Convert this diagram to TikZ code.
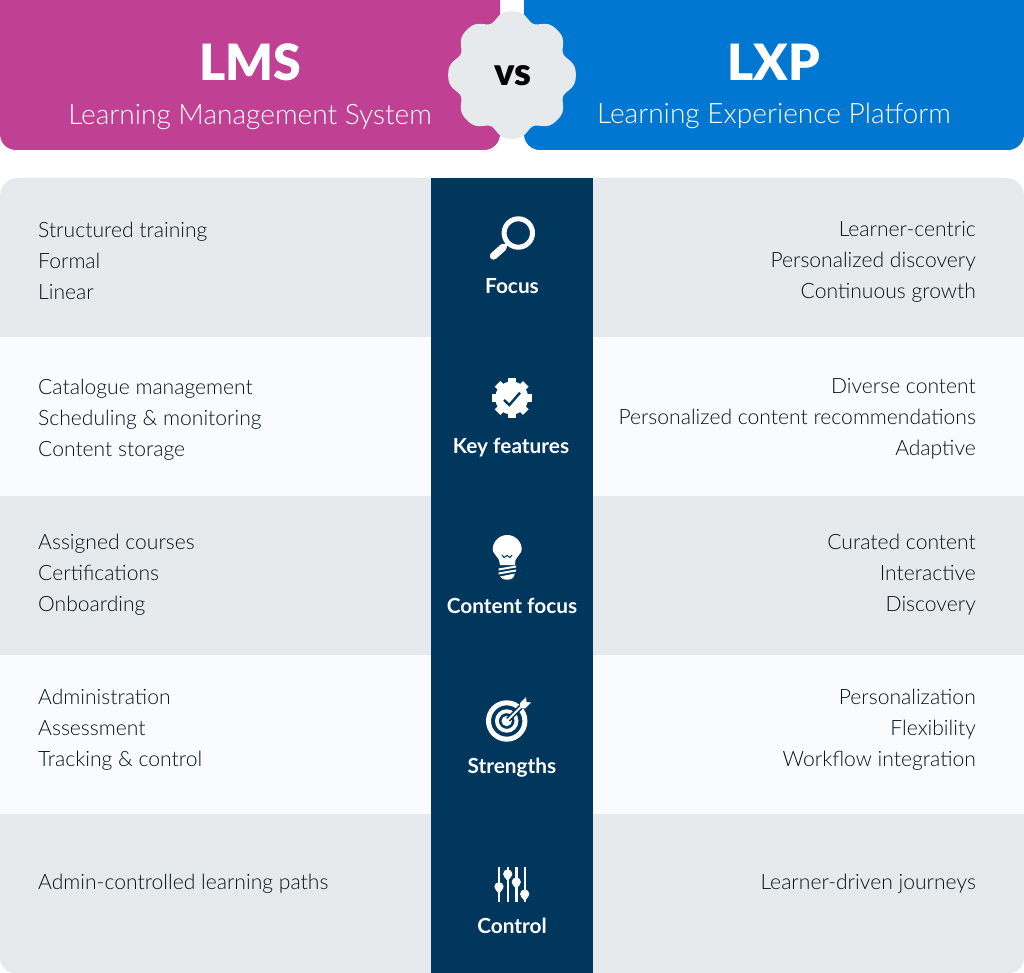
\documentclass[tikz,border=0pt]{standalone}
\usepackage{fontspec}
\setmainfont{Lato}[UprightFont=* Light,BoldFont=* Bold]
\newfontfamily\heavyfont{Lato Black}
\definecolor{lms}{HTML}{C04194}
\definecolor{lxp}{HTML}{0277D2}
\definecolor{navy}{HTML}{01375C}
\definecolor{rowdark}{HTML}{E6EAEC}
\definecolor{rowlight}{HTML}{F9FBFD}
\definecolor{ink}{HTML}{05131C}
\tikzset{
 rowtext/.style={inner sep=0pt,text=ink,font=\fontsize{21.1}{31}\selectfont,
   execute at begin node=\strut,execute at end node=\strut},
 lefttext/.style={rowtext,anchor=west,align=left},
 righttext/.style={rowtext,anchor=east,align=right},
 catlabel/.style={inner sep=0pt,text=white,font=\fontsize{20.8}{24}\selectfont\bfseries},
 bigtitle/.style={inner sep=0pt,text=white,font=\fontsize{50}{60}\selectfont\heavyfont},
 subtitle/.style={inner sep=0pt,text=white,font=\fontsize{28.1}{32}\selectfont},
 icon/.style={fill=white,draw=none},
 iconline/.style={draw=white,line cap=butt}
}
\begin{document}
\begin{tikzpicture}[x=1pt,y=-1pt]
\useasboundingbox (0,0) rectangle (1024,973);
% header
\fill[lms] (0,-30) [rounded corners=16pt] -- (0,150) -- (500,150) [sharp corners] -- (500,-30) -- cycle;
\fill[lxp] (524,-30) [rounded corners=16pt] -- (524,150) -- (1024,150) [sharp corners] -- (1024,-30) -- cycle;
\fill[rowdark,shift={(512,75)}] plot[domain=0:360,samples=361] ({(60.5+4.2*cos(8*\x)-0.9*cos(16*\x))*cos(\x)},{(60.5+4.2*cos(8*\x)-0.9*cos(16*\x))*sin(\x)}) -- cycle;
\node[bigtitle] (lmst) at (250,62) {LMS};
\node[subtitle] (lmss) at (250,117) {Learning Management System};
\node[bigtitle] (lxpt) at (774,62) {LXP};
\node[subtitle] (lxps) at (774,115.5) {Learning Experience Platform};
\node[inner sep=0pt,text=black,font=\fontsize{38}{40}\selectfont\heavyfont] (vs) at (512.5,76) {vs};
% rows
\fill[rowdark] (0,337) [rounded corners=18pt] -- (0,178) -- (1024,178) [sharp corners] -- (1024,337) -- cycle;
\fill[rowlight] (0,337) rectangle (1024,496);
\fill[rowdark] (0,496) rectangle (1024,655);
\fill[rowlight] (0,655) rectangle (1024,814);
\fill[rowdark] (0,814) [rounded corners=15pt] -- (0,973) -- (1024,973) [sharp corners] -- (1024,814) -- cycle;
\fill[navy] (431,178) rectangle (593,973);
% left
\node[lefttext] (l1) at (38,265) {Structured training\\Formal\\Linear};
\node[lefttext] (l2) at (38,422) {Catalogue management\\Scheduling \& monitoring\\Content storage};
\node[lefttext] (l3) at (38,577) {Assigned courses\\Certifications\\Onboarding};
\node[lefttext] (l4) at (38,732) {Administration\\Assessment\\Tracking \& control};
\node[lefttext] (l5) at (38,883.5) {Admin-controlled learning paths};
% right
\node[righttext] (r1) at (976,264.5) {Learner-centric\\Personalized discovery\\Continuous growth};
\node[righttext] (r2) at (976,421.5) {Diverse content\\Personalized content recommendations\\Adaptive};
\node[righttext] (r3) at (976,577) {Curated content\\Interactive\\Discovery};
\node[righttext] (r4) at (976,732) {Personalization\\Flexibility\\Workflow integration};
\node[righttext] (r5) at (976,883.5) {Learner-driven journeys};
% centre labels
\node[catlabel,anchor=base] (c1) at (512,293.5) {Focus};
\node[catlabel,anchor=base] (c2) at (511,453.5) {Key features};
\node[catlabel,anchor=base] (c3) at (512,613.5) {Content focus};
\node[catlabel,anchor=base] (c4) at (512,773.5) {Strengths};
\node[catlabel,anchor=base] (c5) at (512,933.5) {Control};
% magnifier
\draw[iconline,line width=5pt] (518.3,233) circle[radius=14.2];
\draw[iconline,line width=3.5pt] (508,243) -- (502,249);
\draw[iconline,line width=7.5pt,line cap=round] (503,247.5) -- (493.5,256);
% gear
\fill[icon] (511.7,398) circle[radius=16.5];
\foreach \a in {0,45,...,315}
  \fill[icon,shift={(511.7,398)},rotate=\a] (-4,-20) rectangle (4,-12);
\draw[navy,line width=2.4pt,line cap=butt,line join=miter] (504,400) -- (509.3,405) -- (520,392.7);
% bulb
\fill[icon] (499,560) .. controls (497,556) and (492.7,553) .. (492.7,549.5) arc[start angle=180,end angle=360,radius=14.5] .. controls (521.7,553) and (517.4,556) .. (515.5,560) -- (515,565) -- (500,565) -- cycle;
\fill[icon] (498.5,568.5) -- (516,565.5) -- (516,567.5) -- (498.5,570.5) -- cycle;
\fill[icon] (498.5,572.5) -- (516,569.5) -- (516,571.5) -- (498.5,574.5) -- cycle;
\fill[icon] (500,576.5) -- (515,573.5) -- (513,578) .. controls (510,580) and (506,580) .. (503,579) -- cycle;
\draw[navy,line width=1pt] (502,555) -- (504,557.5) -- (507,555.5) -- (510,557.5) -- (512,555);
% target
\draw[iconline,line width=5pt] (506.7,721) circle[radius=18.2];
\draw[iconline,line width=3.8pt] (506.7,721) circle[radius=9.8];
\fill[icon] (506.7,721) circle[radius=5.2];
\draw[navy,line width=5pt] (508,719.7) -- (521,706.7);
\draw[iconline,line width=2pt] (506.7,721) -- (522,705.7);
\fill[icon] (520,703) -- (526,697) -- (526.5,702) -- (531,702.5) -- (525,708.5) -- (520,708) -- cycle;
% sliders
\foreach \lx/\ky in {499/886.7,507.7/874,516.3/882,524.7/894}{
  \draw[iconline,line width=2.4pt] (\lx,867.3) -- (\lx,901.7);
  \fill[icon] (\lx,\ky) circle[radius=4.6];
  \fill[icon] (\lx-3,\ky+3.4) -- (\lx,\ky+7) -- (\lx+3,\ky+3.4) -- cycle;
}
\end{tikzpicture}
\end{document}
